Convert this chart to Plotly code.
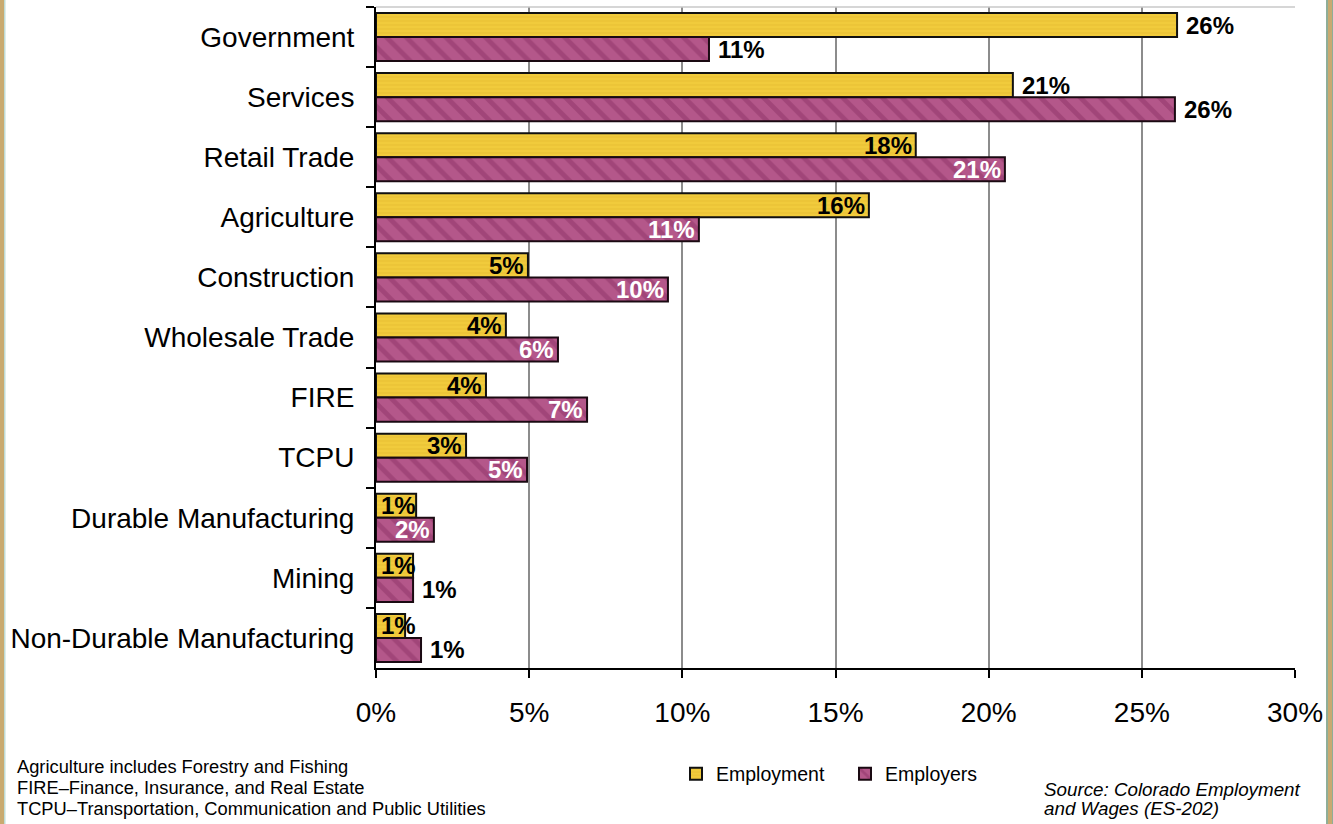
import plotly.graph_objects as go

# Industry shares (%), largest first
industries = ["Government", "Services", "Retail Trade", "Agriculture", "Construction",
              "Wholesale Trade", "FIRE", "TCPU", "Durable Manufacturing", "Mining",
              "Non-Durable Manufacturing"]
employment = [26.15, 20.79, 17.62, 16.09, 4.96, 4.24, 3.59, 2.94, 1.31, 1.21, 0.95]
employers = [10.87, 26.08, 20.53, 10.54, 9.53, 5.94, 6.89, 4.93, 1.89, 1.21, 1.47]

x_ticks = [0, 5, 10, 15, 20, 25, 30]

# Where each value label sits relative to its bar
emp_label_place = ["outside", "outside", "inside", "inside", "inside", "inside",
                   "inside", "inside", "start", "start", "start"]
empr_label_place = ["outside", "outside", "inside", "inside", "inside", "inside",
                    "inside", "inside", "inside", "outside", "outside"]

W, H = 1333, 824
ML, MR, MT, MB = 376, 38, 7, 156
PW, PH = W - ML - MR, H - MT - MB

def px_x(x):
    return (x - ML) / PW

def px_y(y):
    return (H - MB - y) / PH

FONT = "Liberation Sans, Arial, sans-serif"
YELLOW = "#F1CB3C"
YELLOW_DK = "#DDB42A"
PURPLE = "#B4578A"
PURPLE_DK = "#8E3467"

fig = go.Figure()
fig.add_trace(go.Bar(
    y=industries, x=employment, orientation="h", name="Employment",
    marker=dict(color=YELLOW, line=dict(color="#111111", width=2),
                pattern=dict(shape="-", fgcolor=YELLOW_DK, bgcolor=YELLOW,
                             size=4, solidity=0.25)),
))
fig.add_trace(go.Bar(
    y=industries, x=employers, orientation="h", name="Employers",
    marker=dict(color=PURPLE, line=dict(color="#1a0a12", width=2),
                pattern=dict(shape="\\", fgcolor=PURPLE_DK, bgcolor=PURPLE,
                             size=14, solidity=0.35)),
))

annotations = []

def add_labels(values, places, yshift, inside_color):
    for cat, v, place in zip(industries, values, places):
        txt = f"{round(v)}%"
        if place == "outside":
            x, anchor, xs, col = v, "left", 7, "#000000"
        elif place == "inside":
            x, anchor, xs, col = v, "right", -2, inside_color
        else:
            x, anchor, xs, col = 0, "left", 3, "#000000"
        annotations.append(dict(
            x=x, y=cat, xref="x", yref="y", text=f"<b>{txt}</b>", showarrow=False,
            xanchor=anchor, yanchor="middle", xshift=xs, yshift=yshift,
            font=dict(family=FONT, size=24, color=col),
        ))

add_labels(employment, emp_label_place, 12, "#000000")
add_labels(employers, empr_label_place, -12, "#FFFFFF")

# Footnotes
notes = ["Agriculture includes Forestry and Fishing",
         "FIRE\u2013Finance, Insurance, and Real Estate",
         "TCPU\u2013Transportation, Communication and Public Utilities"]
for line, yc in zip(notes, [767, 787, 808]):
    annotations.append(dict(
        x=px_x(15), y=px_y(yc), xref="paper", yref="paper", text=line,
        showarrow=False, xanchor="left", yanchor="middle",
        font=dict(family=FONT, size=18.3, color="#000000"),
    ))

source = ["Source: Colorado Employment", "and Wages (ES-202)"]
for line, yc in zip(source, [789, 808]):
    annotations.append(dict(
        x=px_x(1042), y=px_y(yc), xref="paper", yref="paper", text=f"<i>{line}</i>",
        showarrow=False, xanchor="left", yanchor="middle",
        font=dict(family=FONT, size=18.8, color="#000000"),
    ))

shapes = [
    # light frame along the top of the plotting area
    dict(type="line", xref="paper", yref="paper", x0=0, x1=1, y0=1, y1=1,
         line=dict(color="#C8C8C8", width=1.5)),
    # page border stripes
    dict(type="rect", xref="paper", yref="paper", x0=px_x(0), x1=px_x(4),
         y0=px_y(H), y1=px_y(0), fillcolor="#C9AA70", line=dict(width=0)),
    dict(type="rect", xref="paper", yref="paper", x0=px_x(4), x1=px_x(5.5),
         y0=px_y(H), y1=px_y(0), fillcolor="#BFDCD6", line=dict(width=0)),
    dict(type="rect", xref="paper", yref="paper", x0=px_x(1326), x1=px_x(1328),
         y0=px_y(H), y1=px_y(0), fillcolor="#8FAE98", line=dict(width=0)),
    dict(type="rect", xref="paper", yref="paper", x0=px_x(1328), x1=px_x(1332),
         y0=px_y(H), y1=px_y(0), fillcolor="#C9AA70", line=dict(width=0)),
    dict(type="rect", xref="paper", yref="paper", x0=px_x(1332), x1=px_x(1333),
         y0=px_y(H), y1=px_y(0), fillcolor="#8FAE98", line=dict(width=0)),
]

fig.update_layout(
    width=W, height=H,
    margin=dict(l=ML, r=MR, t=MT, b=MB),
    paper_bgcolor="#FFFFFF", plot_bgcolor="#FFFFFF",
    barmode="group", bargap=0.2, bargroupgap=0,
    font=dict(family=FONT, color="#000000"),
    showlegend=True,
    legend=dict(orientation="h", x=px_x(676), y=px_y(774), xanchor="left",
                yanchor="middle", font=dict(family=FONT, size=19.5),
                bgcolor="rgba(0,0,0,0)", itemwidth=30, traceorder="normal",
                entrywidth=124, entrywidthmode="pixels"),
    annotations=annotations,
    shapes=shapes,
)
fig.update_xaxes(
    range=[0, 30], tickvals=x_ticks, ticktext=[f"{t}%" for t in x_ticks],
    showgrid=True, gridcolor="#8C8C8C", gridwidth=1.5,
    showline=True, linecolor="#000000", linewidth=2,
    ticks="outside", ticklen=8, tickwidth=2, tickcolor="#000000",
    tickfont=dict(family=FONT, size=28), zeroline=False, ticklabelstandoff=10,
)
fig.update_yaxes(
    type="category", autorange="reversed",
    showgrid=False, showline=True, linecolor="#000000", linewidth=2,
    ticks="outside", tickson="boundaries", ticklen=8, tickwidth=2, tickcolor="#000000",
    tickfont=dict(family=FONT, size=28), ticklabelstandoff=14,
)

fig.write_html("out.html")
